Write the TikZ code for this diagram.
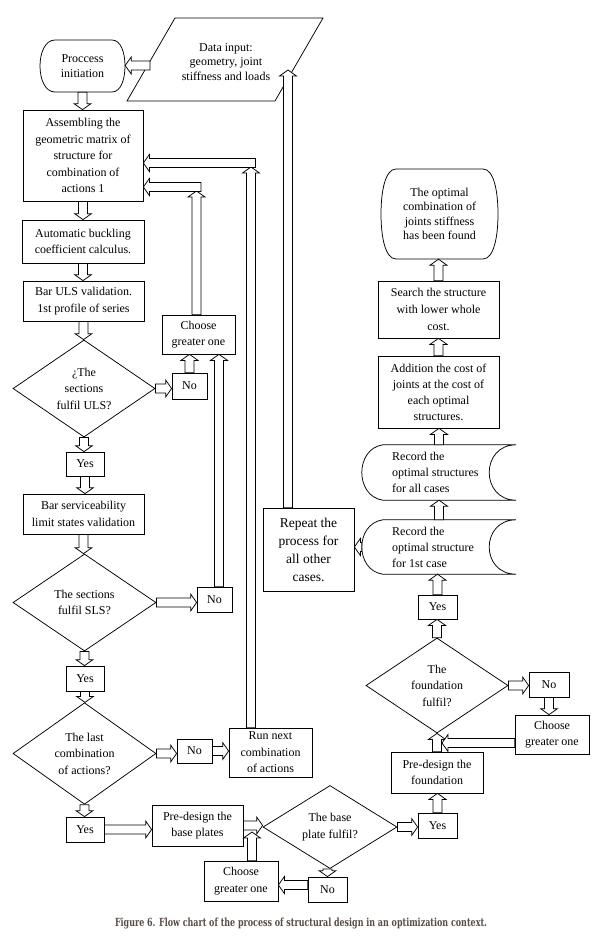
\documentclass[tikz,border=0pt]{standalone}
\usepackage{fontspec}
\setmainfont{Liberation Serif}
\newfontfamily\capfont{DejaVu Serif}
\usepackage{graphicx}
\usetikzlibrary{shapes.geometric,shapes.misc,calc}
\newcommand\arrsw{4.5pt}
\newcommand\arrhw{8.5pt}
\newcommand\arrhl{6pt}
\definecolor{capcol}{RGB}{88,76,70}
\tikzset{
  every node/.style={font=\fontsize{12}{16.5}\selectfont},
  box/.style={draw, fill=white, line width=0.75pt, inner sep=0pt, align=center},
  dia/.style={diamond, draw, fill=white, line width=0.75pt, inner sep=0pt, align=center},
  plain/.style={inner sep=0pt, align=center},
  outline/.style={draw, fill=white, line width=0.75pt},
  harrow/.style={draw, fill=white, line width=0.75pt, line join=miter, to path={
    -- ($(\tikztostart)!\arrsw!90:(\tikztotarget)$)
    -- ($($(\tikztotarget)!\arrhl!(\tikztostart)$)!\arrsw!90:(\tikztotarget)$)
    -- ($($(\tikztotarget)!\arrhl!(\tikztostart)$)!\arrhw!90:(\tikztotarget)$)
    -- (\tikztotarget)
    -- ($($(\tikztotarget)!\arrhl!(\tikztostart)$)!\arrhw!-90:(\tikztotarget)$)
    -- ($($(\tikztotarget)!\arrhl!(\tikztostart)$)!\arrsw!-90:(\tikztotarget)$)
    -- ($(\tikztostart)!\arrsw!-90:(\tikztotarget)$)
    -- cycle}}
}
\begin{document}
\begin{tikzpicture}[x=1pt,y=-1pt]
\useasboundingbox (0,0) rectangle (602,942);
\fill[white] (0,0) rectangle (602,942);

% ---------- terminal: process initiation ----------
\draw[outline] (55,40) -- (112,40) .. controls (121,40) and (125,53) .. (125,66)
  .. controls (125,79) and (121,92) .. (112,92) -- (55,92)
  .. controls (45,92) and (40,79) .. (40,66) .. controls (40,53) and (45,40) .. (55,40);
\node[plain, minimum width=85pt, minimum height=52pt,
  font=\fontsize{12}{14.5}\selectfont] (proc) at (82.5,66) {Proccess\\initiation};

% ---------- data input ----------
\draw[outline] (175,18) -- (323,18) -- (275,101) -- (127,101) -- cycle;
\node[plain, font=\fontsize{12}{14.5}\selectfont] (data) at (226,62)
  {Data input:\\geometry, joint\\stiffness and loads};
\coordinate (dL) at (150,65.5);

% ---------- left column ----------
\node[box, minimum width=120pt, minimum height=91pt] (assem) at (83,155.5)
  {Assembling the\\geometric matrix of\\structure for\\combination of\\actions 1};
\node[box, minimum width=122pt, minimum height=43pt] (buck) at (83,241.5)
  {Automatic buckling\\coefficient calculus.};
\node[box, minimum width=121pt, minimum height=40pt] (uls) at (83.5,301)
  {Bar ULS validation.\\1st profile of series};
\node[dia, minimum width=142pt, minimum height=97pt] (dULS) at (84,388.5)
  {¿The\\sections\\fulfil ULS?};
\node[box, minimum width=35pt, minimum height=26pt] (noULS) at (189.5,386) {No};
\node[box, minimum width=73pt, minimum height=39pt] (chooseULS) at (198.5,334.5)
  {Choose\\greater one};
\node[box, minimum width=38pt, minimum height=24pt] (yesULS) at (85,464) {Yes};
\node[box, minimum width=121pt, minimum height=40pt] (sls) at (83.5,514)
  {Bar serviceability\\limit states validation};
\node[dia, minimum width=143pt, minimum height=97pt] (dSLS) at (84.5,602.5)
  {The sections\\fulfil SLS?};
\node[box, minimum width=35pt, minimum height=25pt] (noSLS) at (214.5,599.5) {No};
\node[box, minimum width=38pt, minimum height=25pt] (yesSLS) at (85,678.5) {Yes};
\node[dia, minimum width=143pt, minimum height=97pt] (dLast) at (84.5,753.5)
  {The last\\combination\\of actions?};
\node[box, minimum width=35pt, minimum height=24pt] (noLast) at (194.5,751) {No};
\node[box, minimum width=83pt, minimum height=49pt] (runNext) at (270.5,752.5)
  {Run next\\combination\\of actions};
\node[box, minimum width=38pt, minimum height=25pt] (yesLast) at (85,829.5) {Yes};

% ---------- bottom row ----------
\node[box, minimum width=91pt, minimum height=41pt] (preBase) at (197.5,825.5)
  {Pre-design the\\base plates};
\node[dia, minimum width=134pt, minimum height=66pt] (dBase) at (330,827)
  {The base\\plate fulfil?};
\node[box, minimum width=39pt, minimum height=25pt] (yesBase) at (437.5,825.5) {Yes};
\node[box, minimum width=39pt, minimum height=25pt] (noBase) at (327.5,889.5) {No};
\node[box, minimum width=74pt, minimum height=40pt] (chooseBase) at (241,881)
  {Choose\\greater one};

% ---------- right column ----------
\node[box, minimum width=92pt, minimum height=41pt] (preFound) at (437,772.5)
  {Pre-design the\\foundation};
\node[dia, minimum width=142pt, minimum height=95pt] (dFound) at (437,685.5)
  {The\\foundation\\fulfil?};
\node[box, minimum width=40pt, minimum height=25pt] (noFound) at (549,684.5) {No};
\node[box, minimum width=74pt, minimum height=39pt] (chooseFound) at (552,734.5)
  {Choose\\greater one};
\node[box, minimum width=39pt, minimum height=24pt] (yesFound) at (437.5,607) {Yes};

\node[inner sep=0pt, minimum width=154pt, minimum height=54pt] (rec1) at (439,547) {};
\draw[outline] ($(rec1.north west)+(21,0)$) -- (rec1.north east)
  .. controls +(-36,0) and +(-36,0) .. (rec1.south east)
  -- ($(rec1.south west)+(21,0)$)
  .. controls +(-28,-4) and +(-28,4) .. ($(rec1.north west)+(21,0)$);
\node[anchor=west, align=left, inner sep=0pt, font=\fontsize{12}{16}\selectfont] (rec1t) at (392,547)
  {Record the\\optimal structure\\for 1st case};

\node[inner sep=0pt, minimum width=154pt, minimum height=55pt] (recAll) at (439,472.5) {};
\draw[outline] ($(recAll.north west)+(21,0)$) -- (recAll.north east)
  .. controls +(-36,0) and +(-36,0) .. (recAll.south east)
  -- ($(recAll.south west)+(21,0)$)
  .. controls +(-28,-4) and +(-28,4) .. ($(recAll.north west)+(21,0)$);
\node[anchor=west, align=left, inner sep=0pt, font=\fontsize{12}{16}\selectfont] (recAllt) at (392,472.5)
  {Record the\\optimal structures\\for all cases};

\node[box, minimum width=91pt, minimum height=83pt, font=\fontsize{13.5}{18}\selectfont] (repeat) at (308.5,549.5)
  {Repeat the\\process for\\all other\\cases.};
\node[box, minimum width=121pt, minimum height=72pt, font=\fontsize{12}{16}\selectfont] (addition) at (438.5,392)
  {Addition the cost of\\joints at the cost of\\each optimal\\structures.};
\node[box, minimum width=121pt, minimum height=57pt, font=\fontsize{12}{17}\selectfont] (search) at (438.5,309.5)
  {Search the structure\\with lower whole\\cost.};

% ---------- terminal: optimal ----------
\draw[outline] (396,169) -- (483,169) .. controls (494,169) and (498,192) .. (498,214)
  .. controls (498,236) and (494,259) .. (483,259) -- (396,259)
  .. controls (385,259) and (381,236) .. (381,214) .. controls (381,192) and (385,169) .. (396,169);
\node[plain, minimum width=117pt, minimum height=90pt,
  font=\fontsize{12}{14.5}\selectfont] (optimal) at (439.5,214)
  {The optimal\\combination of\\joints stiffness\\has been found};

% ---------- connectors ----------
\draw[harrow] (dL) to (dL -| proc.east);
\draw[harrow] (proc.south) to (proc.south |- assem.north);
\draw[harrow] (assem.south) to (assem.south |- buck.north);
\draw[harrow] (buck.south) to (buck.south |- uls.north);
\draw[harrow] (uls.south) to (uls.south |- dULS.north);
\draw[harrow] (dULS.east) to (dULS.east -| noULS.west);
\draw[harrow] (noULS.north) to (noULS.north |- chooseULS.south);
\coordinate (e1) at (196.5,191);
\coordinate (e1h) at (201,187);
\draw[harrow] (chooseULS.north -| e1) to (e1);
\draw[harrow] (e1h) to (e1h -| assem.east);
\draw[harrow] (dULS.south) to (dULS.south |- yesULS.north);
\draw[harrow] (yesULS.south) to (yesULS.south |- sls.north);
\draw[harrow] (sls.south) to (sls.south |- dSLS.north);
\draw[harrow] (dSLS.east) to (dSLS.east -| noSLS.west);
\draw[harrow] ([xshift=4.5pt]noSLS.north) to ([xshift=4.5pt]noSLS.north |- chooseULS.south);
\draw[harrow] (dSLS.south) to (dSLS.south |- yesSLS.north);
\draw[harrow] (yesSLS.south) to (yesSLS.south |- dLast.north);
\draw[harrow] (dLast.east) to (dLast.east -| noLast.west);
\draw[harrow] (noLast.east) to (noLast.east -| runNext.west);
\coordinate (e2) at (251,167);
\coordinate (e2h) at (255.5,163);
\draw[harrow] (runNext.north -| e2) to (e2);
\draw[harrow] (e2h) to (e2h -| assem.east);
\draw[harrow] (dLast.south) to (dLast.south |- yesLast.north);
\draw[harrow] (yesLast.east) to (yesLast.east -| preBase.west);
\draw[harrow] (preBase.east) to (preBase.east -| dBase.west);
\draw[harrow] (dBase.east) to (dBase.east -| yesBase.west);
\draw[harrow] (noBase.north |- dBase.south) to (noBase.north);
\draw[harrow] ([yshift=4.5pt]noBase.west) to ([yshift=4.5pt]noBase.west -| chooseBase.east);
\coordinate (btip) at (252,832);
\draw[harrow] (chooseBase.north -| btip) to (btip);
\draw[harrow] (yesBase.north) to (yesBase.north |- preFound.south);
\draw[harrow] (preFound.north) to (preFound.north |- dFound.south);
\draw[harrow] (dFound.east) to (dFound.east -| noFound.west);
\draw[harrow] (noFound.south) to (noFound.south |- chooseFound.north);
\coordinate (ftip) at (442,743);
\draw[harrow] (chooseFound.west |- ftip) to (ftip);
\draw[harrow] (dFound.north) to (dFound.north |- yesFound.south);
\draw[harrow] (yesFound.north) to (yesFound.north |- rec1.south);
\draw[harrow] (rec1.north) to (rec1.north |- recAll.south);
\draw[harrow] (recAll.north) to (recAll.north |- addition.south);
\draw[harrow] (addition.north) to (addition.north |- search.south);
\draw[harrow] (search.north) to (search.north |- optimal.south);
\draw[harrow] (rec1.west) to (rec1.west -| repeat.east);
\coordinate (rtip) at (288,70);
\draw[harrow] (repeat.north -| rtip) to (rtip);

% ---------- caption ----------
\node[inner sep=0pt] (cap) at (301,923)
  {\resizebox{372pt}{8.5pt}{\capfont\bfseries\color{capcol}Figure 6. Flow chart of the process of structural design in an optimization context.}};
\end{tikzpicture}
\end{document}
